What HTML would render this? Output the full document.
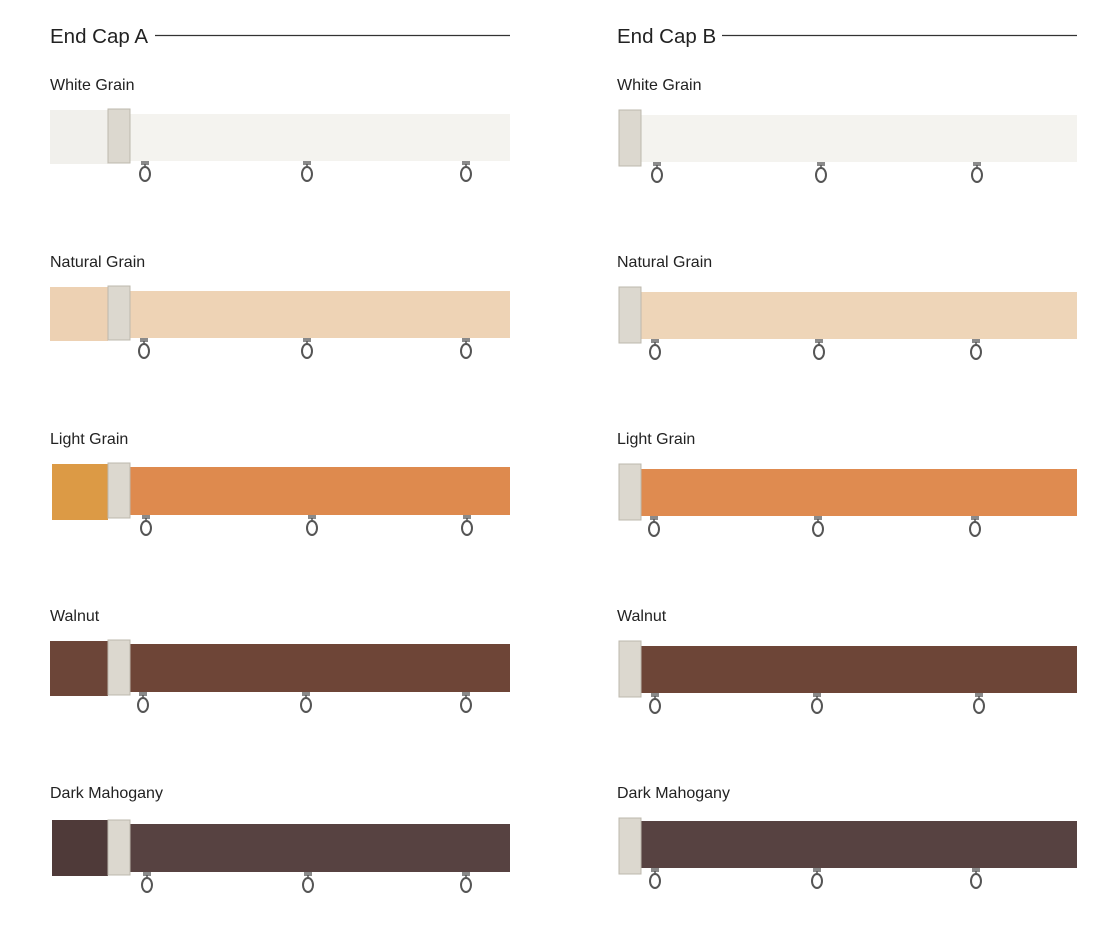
<!DOCTYPE html>
<html><head><meta charset="utf-8"><style>
body{margin:0;background:#fff;width:1117px;height:926px;overflow:hidden}
svg{display:block}
text{font-family:"Liberation Sans",sans-serif;fill:#222}
</style></head><body>
<svg width="1117" height="926" viewBox="0 0 1117 926">
<defs>
<g id="hook"><rect x="-4" y="0" width="8" height="4" fill="#8a8a8a"/><line x1="0" y1="3" x2="0" y2="7" stroke="#555" stroke-width="1.5"/><ellipse cx="0" cy="13" rx="5" ry="7" fill="none" stroke="#555" stroke-width="2"/></g>
</defs>
<text x="50" y="43" font-size="20.5">End Cap A</text>
<line x1="155" y1="35.5" x2="510" y2="35.5" stroke="#333" stroke-width="1.3"/>
<text x="617" y="43" font-size="20.5">End Cap B</text>
<line x1="722" y1="35.5" x2="1077" y2="35.5" stroke="#333" stroke-width="1.3"/>

<g font-size="16">
<text x="50" y="90">White Grain</text><text x="617" y="90">White Grain</text>
<text x="50" y="267">Natural Grain</text><text x="617" y="267">Natural Grain</text>
<text x="50" y="444">Light Grain</text><text x="617" y="444">Light Grain</text>
<text x="50" y="621">Walnut</text><text x="617" y="621">Walnut</text>
<text x="50" y="798">Dark Mahogany</text><text x="617" y="798">Dark Mahogany</text>
</g>

<g transform="translate(0,0)">
<rect x="50" y="110" width="58" height="54" fill="#f1f0ec"/>
<rect x="130" y="114" width="380" height="47" fill="#f4f3ef"/>
<rect x="108" y="109" width="22" height="54" fill="#dcd8cf" stroke="#bdb8ad"/>
<rect x="641" y="115" width="436" height="47" fill="#f4f3ef"/>
<rect x="619" y="110" width="22" height="56" fill="#dcd8cf" stroke="#bdb8ad"/>
</g>
<g transform="translate(0,177)">
<rect x="50" y="110" width="58" height="54" fill="#edd1b3"/>
<rect x="130" y="114" width="380" height="47" fill="#eed3b5"/>
<rect x="108" y="109" width="22" height="54" fill="#dcd8cf" stroke="#bdb8ad"/>
<rect x="641" y="115" width="436" height="47" fill="#eed5b8"/>
<rect x="619" y="110" width="22" height="56" fill="#dcd8cf" stroke="#bdb8ad"/>
</g>
<g transform="translate(0,354)">
<rect x="52" y="110" width="56" height="56" fill="#dc9a45"/>
<rect x="130" y="113" width="380" height="48" fill="#de8a4e"/>
<rect x="108" y="109" width="22" height="55" fill="#dcd8cf" stroke="#bdb8ad"/>
<rect x="641" y="115" width="436" height="47" fill="#df8b50"/>
<rect x="619" y="110" width="22" height="56" fill="#dcd8cf" stroke="#bdb8ad"/>
</g>
<g transform="translate(0,531)">
<rect x="50" y="110" width="58" height="55" fill="#6c4538"/>
<rect x="130" y="113" width="380" height="48" fill="#6e4537"/>
<rect x="108" y="109" width="22" height="55" fill="#dcd8cf" stroke="#bdb8ad"/>
<rect x="641" y="115" width="436" height="47" fill="#6d4537"/>
<rect x="619" y="110" width="22" height="56" fill="#dcd8cf" stroke="#bdb8ad"/>
</g>
<g transform="translate(0,708)">
<rect x="52" y="112" width="56" height="56" fill="#4f3a39"/>
<rect x="130" y="116" width="380" height="48" fill="#574241"/>
<rect x="108" y="112" width="22" height="55" fill="#dcd8cf" stroke="#bdb8ad"/>
<rect x="641" y="113" width="436" height="47" fill="#574241"/>
<rect x="619" y="110" width="22" height="56" fill="#dcd8cf" stroke="#bdb8ad"/>
</g>

<g>
<use href="#hook" x="145" y="161"/><use href="#hook" x="307" y="161"/><use href="#hook" x="466" y="161"/>
<use href="#hook" x="657" y="162"/><use href="#hook" x="821" y="162"/><use href="#hook" x="977" y="162"/>
<use href="#hook" x="144" y="338"/><use href="#hook" x="307" y="338"/><use href="#hook" x="466" y="338"/>
<use href="#hook" x="655" y="339"/><use href="#hook" x="819" y="339"/><use href="#hook" x="976" y="339"/>
<use href="#hook" x="146" y="515"/><use href="#hook" x="312" y="515"/><use href="#hook" x="467" y="515"/>
<use href="#hook" x="654" y="516"/><use href="#hook" x="818" y="516"/><use href="#hook" x="975" y="516"/>
<use href="#hook" x="143" y="692"/><use href="#hook" x="306" y="692"/><use href="#hook" x="466" y="692"/>
<use href="#hook" x="655" y="693"/><use href="#hook" x="817" y="693"/><use href="#hook" x="979" y="693"/>
<use href="#hook" x="147" y="872"/><use href="#hook" x="308" y="872"/><use href="#hook" x="466" y="872"/>
<use href="#hook" x="655" y="868"/><use href="#hook" x="817" y="868"/><use href="#hook" x="976" y="868"/>
</g>
</svg>
</body></html>
